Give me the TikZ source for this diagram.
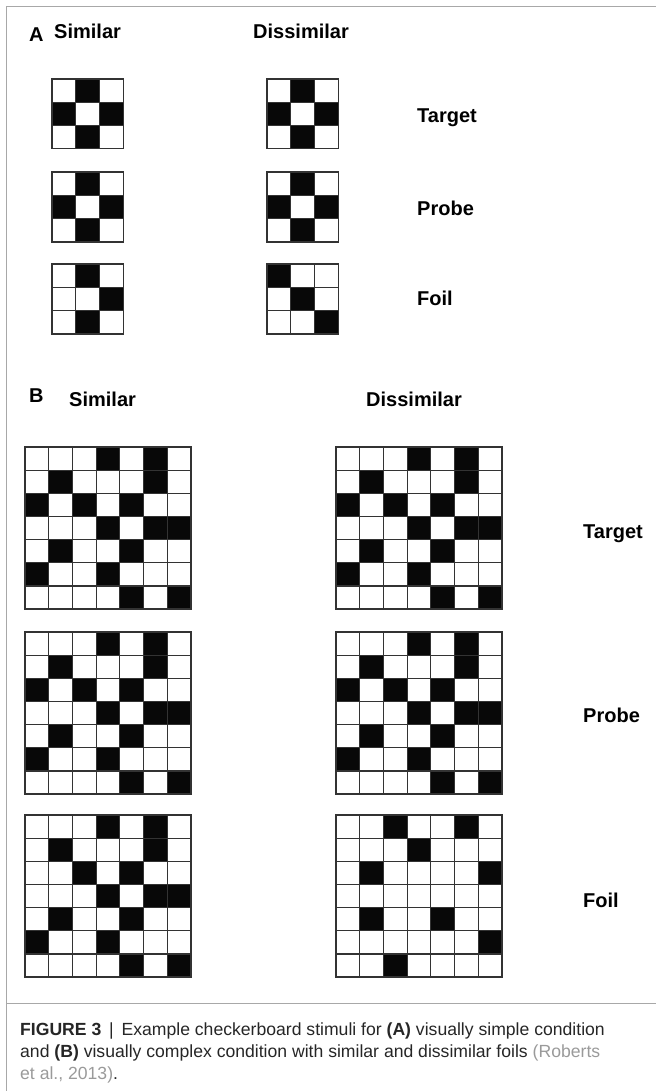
\documentclass[tikz,border=0pt]{standalone}
\usepackage{fontspec}
\setmainfont{Liberation Sans}
\usepackage{tikz}
\usetikzlibrary{positioning}
\usepackage{xcolor}
\definecolor{framegray}{HTML}{A8A8A8}
\definecolor{citegray}{HTML}{9A9A9A}
\tikzset{
    head/.style={font=\fontsize{20}{24}\selectfont\bfseries, inner sep=0pt, anchor=base west},
    capline/.style={font=\fontsize{17.6}{21}\selectfont, inner sep=0pt, anchor=base west, text=black!85},
    cellline/.style={draw=black!80, line width=1.2pt, line cap=rect},
    blackcell/.style={fill=black!97}
}

\begin{document}
\begin{tikzpicture}[x=1pt, y=-1pt]
    \useasboundingbox (0,0) rectangle (656,1091);

    % Frame round the figure and rule above the caption
    \draw[framegray, line width=1.5pt] (6.5,1091) -- (6.5,6.5) -- (656,6.5);
    \draw[framegray, line width=1pt] (6.5,1003) -- (656,1003);

    % Panel A - 3x3 boards
    % target and probe share one pattern
    \foreach \bx/\by in {52/79, 52/172, 267/79, 267/172} {
        \begin{scope}[shift={(\bx,\by)}, x=23.7pt, y=-23.3pt]
            \foreach \r/\c in {0/1, 1/0, 1/2, 2/1}
                \fill[blackcell] (\c,\r) rectangle ++(1,1);
        \end{scope}
    }
    % similar foil
    \begin{scope}[shift={(52,264)}, x=23.7pt, y=-23.3pt]
        \foreach \r/\c in {0/1, 1/2, 2/1}
            \fill[blackcell] (\c,\r) rectangle ++(1,1);
    \end{scope}
    % dissimilar foil
    \begin{scope}[shift={(267,264)}, x=23.7pt, y=-23.3pt]
        \foreach \r/\c in {0/0, 1/1, 2/2}
            \fill[blackcell] (\c,\r) rectangle ++(1,1);
    \end{scope}
    % grid lines
    \foreach \bx/\by in {52/79, 52/172, 52/264, 267/79, 267/172, 267/264} {
        \begin{scope}[shift={(\bx,\by)}, x=23.7pt, y=-23.3pt]
            \foreach \i in {0,1,2,3} {
                \draw[cellline] (\i,0) -- (\i,3);
                \draw[cellline] (0,\i) -- (3,\i);
            }
        \end{scope}
    }

    % Panel B - 7x7 boards
    % target and probe share one pattern
    \foreach \bx/\by in {25/447, 25/632, 336/447, 336/632} {
        \begin{scope}[shift={(\bx,\by)}, x=23.7pt, y=-23.15pt]
            \foreach \r/\c in {0/3, 0/5, 1/1, 1/5, 2/0, 2/2, 2/4, 3/3, 3/5, 3/6, 4/1, 4/4, 5/0, 5/3, 6/4, 6/6}
                \fill[blackcell] (\c,\r) rectangle ++(1,1);
        \end{scope}
    }
    % similar foil
    \begin{scope}[shift={(25,815)}, x=23.7pt, y=-23.15pt]
        \foreach \r/\c in {0/3, 0/5, 1/1, 1/5, 2/2, 2/4, 3/3, 3/5, 3/6, 4/1, 4/4, 5/0, 5/3, 6/4, 6/6}
            \fill[blackcell] (\c,\r) rectangle ++(1,1);
    \end{scope}
    % dissimilar foil
    \begin{scope}[shift={(336,815)}, x=23.7pt, y=-23.15pt]
        \foreach \r/\c in {0/2, 0/5, 1/3, 2/1, 2/6, 4/1, 4/4, 5/6, 6/2}
            \fill[blackcell] (\c,\r) rectangle ++(1,1);
    \end{scope}
    % grid lines
    \foreach \bx/\by in {25/447, 25/632, 25/815, 336/447, 336/632, 336/815} {
        \begin{scope}[shift={(\bx,\by)}, x=23.7pt, y=-23.15pt]
            \foreach \i in {0,...,7} {
                \draw[cellline] (\i,0) -- (\i,7);
                \draw[cellline] (0,\i) -- (7,\i);
            }
        \end{scope}
    }

    % Headings
    \node[head] (panA) at (29,42) {A};
    \node[head] (simA) at (54,39) {Similar};
    \node[head] (disA) at (253,39) {Dissimilar};
    \node[head] (panB) at (29,402) {B};
    \node[head] (simB) at (69,406) {Similar};
    \node[head] (disB) at (366,406) {Dissimilar};

    % Row labels
    \foreach \name/\ya/\yb in {Target/123/538, Probe/215/722, Foil/305/907} {
        \node[head] (\name A) at (417,\ya) {\name};
        \node[head] (\name B) at (583,\yb) {\name};
    }

    % Caption
    \node[capline] (cap1) at (20,1035) {\textbf{FIGURE 3} \,|\, Example checkerboard stimuli for \textbf{(A)} visually simple condition};
    \node[capline] (cap2) at (20,1057) {and \textbf{(B)} visually complex condition with similar and dissimilar foils \textcolor{citegray}{(Roberts}};
    \node[capline] (cap3) at (20,1079) {\textcolor{citegray}{et al., 2013)}.};
\end{tikzpicture}
\end{document}
